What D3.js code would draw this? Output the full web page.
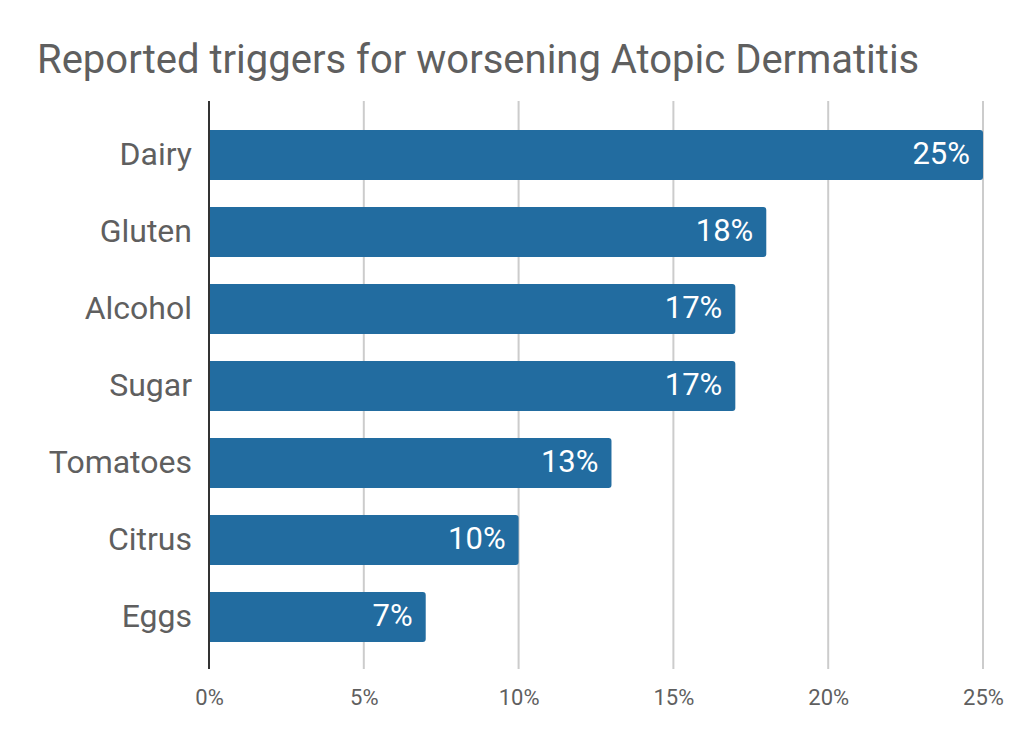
<!DOCTYPE html>
<html>
<head>
<meta charset="utf-8">
<script src="https://cdn.jsdelivr.net/npm/d3@7"></script>
<style>
    body { margin: 0; background: #fff; }
    #chart { width: 1022px; height: 742px; }
    text { font-family: Roboto, sans-serif; }
</style>
</head>
<body>
<div id="chart"></div>
<script>
const categories = ["Dairy", "Gluten", "Alcohol", "Sugar", "Tomatoes", "Citrus", "Eggs"];
const values = [25, 18, 17, 17, 13, 10, 7];
const tickValues = [0, 5, 10, 15, 20, 25];

const data = categories.map(function(c, i) { return {cat: c, val: values[i]}; });

const width = 1022;
const height = 742;
const margin = {top: 101, left: 209, right: 39, bottom: 73};

const svg = d3.select("#chart")
    .append("svg")
    .attr("width", width)
    .attr("height", height);

// Scales
const xScale = d3.scaleLinear()
    .domain([0, 25])
    .range([margin.left, width - margin.right]);

const yScale = d3.scaleBand()
    .domain(categories)
    .range([margin.top + 1, height - margin.bottom + 1])
    .paddingInner(0.3506)
    .paddingOuter(0.364);

// Title
svg.append("text")
    .attr("x", 37)
    .attr("y", 73)
    .attr("fill", "#5f5f5f")
    .style("font-size", "40px")
    .text("Reported triggers for worsening Atopic Dermatitis");

// Gridlines
svg.append("g")
    .selectAll("line")
    .data(tickValues.filter(function(d) { return d > 0; }))
    .enter()
    .append("line")
        .attr("x1", function(d) { return xScale(d); })
        .attr("x2", function(d) { return xScale(d); })
        .attr("y1", margin.top)
        .attr("y2", height - margin.bottom)
        .attr("stroke", "#cccccc")
        .attr("stroke-width", 2);

// X axis labels
const xAxis = svg.append("g")
    .attr("transform", `translate(0,${height - margin.bottom})`)
    .call(d3.axisBottom(xScale).tickValues(tickValues).tickFormat(function(d) { return d + "%"; }).tickSize(0).tickPadding(20));
xAxis.select(".domain").remove();
xAxis.selectAll("text")
    .attr("fill", "#5f5f5f")
    .style("font-size", "22px")
    .style("font-family", "Roboto, sans-serif");

// Bars (rounded on the right end only)
const r = 3;
svg.append("g")
    .selectAll("path")
    .data(data)
    .enter()
    .append("path")
        .attr("fill", "#226ca0")
        .attr("d", function(d) {
            const x0 = xScale(0), x1 = xScale(d.val);
            const y0 = yScale(d.cat), y1 = y0 + yScale.bandwidth();
            return `M${x0},${y0}H${x1 - r}Q${x1},${y0} ${x1},${y0 + r}V${y1 - r}Q${x1},${y1} ${x1 - r},${y1}H${x0}Z`;
        });

// Value labels
svg.append("g")
    .selectAll("text")
    .data(data)
    .enter()
    .append("text")
        .attr("x", function(d) { return xScale(d.val) - 13; })
        .attr("y", function(d) { return yScale(d.cat) + yScale.bandwidth() / 2; })
        .attr("dy", "0.3em")
        .attr("text-anchor", "end")
        .attr("fill", "#ffffff")
        .style("font-size", "31px")
        .text(function(d) { return d.val + "%"; });

// Y axis
const yAxis = svg.append("g")
    .attr("transform", `translate(${margin.left},0)`)
    .call(d3.axisLeft(yScale).tickSize(0).tickPadding(17));
yAxis.select(".domain").remove();
yAxis.selectAll("text")
    .attr("fill", "#5f5f5f")
    .attr("dy", "0.3em")
    .style("font-size", "32px")
    .style("font-family", "Roboto, sans-serif");

svg.append("line")
    .attr("x1", margin.left)
    .attr("x2", margin.left)
    .attr("y1", margin.top)
    .attr("y2", height - margin.bottom)
    .attr("stroke", "#333333")
    .attr("stroke-width", 2);
</script>
</body>
</html>
